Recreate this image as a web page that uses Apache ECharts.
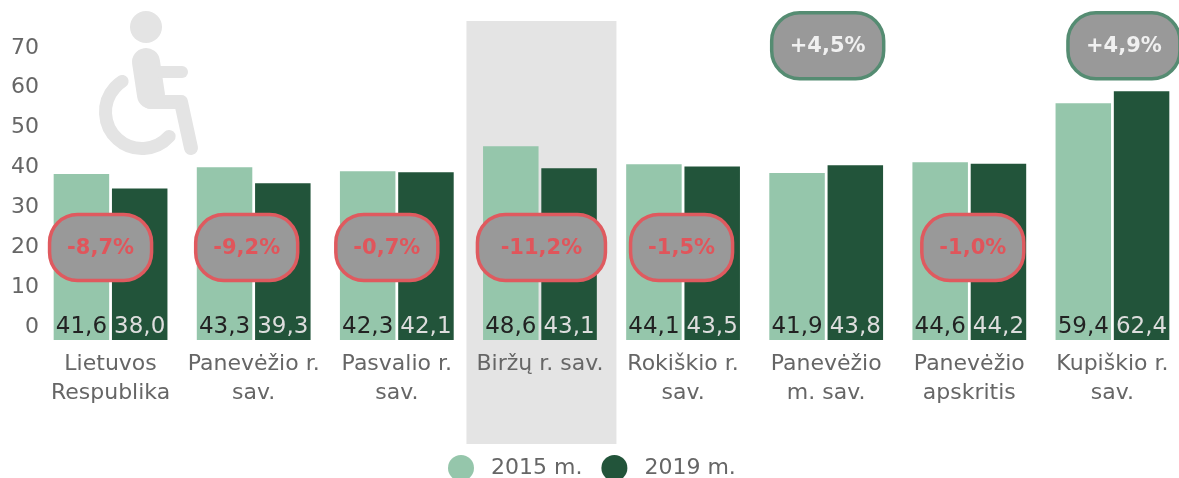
<!DOCTYPE html>
<html>
<head>
<meta charset="utf-8">
<style>html,body{margin:0;padding:0;background:#fff;overflow:hidden}#c{width:1179px;height:478px;filter:blur(0.4px)}</style>
<script src="https://cdn.jsdelivr.net/npm/echarts@6/dist/echarts.min.js"></script>
</head>
<body>
<div id="c"></div>
<script>
const categories = ["Lietuvos\nRespublika","Panevėžio r.\nsav.","Pasvalio r.\nsav.","Biržų r. sav.","Rokiškio r.\nsav.","Panevėžio\nm. sav.","Panevėžio\napskritis","Kupiškio r.\nsav."];
const values2015 = [41.6,43.3,42.3,48.6,44.1,41.9,44.6,59.4];
const values2019 = [38.0,39.3,42.1,43.1,43.5,43.8,44.2,62.4];
const yTicks = [0,10,20,30,40,50,60,70];
const changeCategory = [0,1,2,3,4,5,6,7];
const changeLabels = ["-8,7%","-9,2%","-0,7%","-11,2%","-1,5%","+4,5%","-1,0%","+4,9%"];
const highlightCategory = [3];

// layout of the badges (px relative to the category centre, axis value for height)
const badgeDx = [-10,-7,-10,1.5,-1.5,1.5,3.5,11.5];
const badgeW = [105,105,105,131,105,115,105,115];
const badgeH = 69;
const font = '"DejaVu Sans", sans-serif';
const axisColor = '#666666';

const chart = echarts.init(document.getElementById('c'), null, {renderer:'canvas'});
const iconColor = '#e4e4e4';
chart.setOption({
  animation:false,
  textStyle:{fontFamily:font},
  grid:{left:39,top:21,width:1145,height:319,containLabel:false,outerBoundsMode:'none'},
  legend:{
    left:448,top:455,padding:0,itemWidth:26,itemHeight:26,itemGap:19,icon:'circle',
    data:['2015 m.','2019 m.'],
    textStyle:{fontFamily:font,fontSize:22,color:axisColor,padding:[0,0,0,12]}
  },
  xAxis:{
    type:'category',data:categories,
    axisLine:{show:false},axisTick:{show:false},splitLine:{show:false},
    axisLabel:{interval:0,margin:10,fontFamily:font,fontSize:22,lineHeight:29,color:axisColor,align:'center'}
  },
  yAxis:{
    type:'value',min:0,max:80,interval:10,
    axisLine:{show:false},axisTick:{show:false},splitLine:{show:false},
    axisLabel:{
      margin:0,fontFamily:font,fontSize:22,color:axisColor,verticalAlign:'bottom',lineHeight:26,
      formatter:v=>yTicks.includes(v)?String(v):''
    }
  },
  graphic:[{
    type:'group',z:-1,silent:true,children:[
      {type:'circle',shape:{cx:146,cy:27,r:16},style:{fill:iconColor}},
      {type:'polyline',shape:{points:[[146,62],[151,95]]},style:{stroke:iconColor,lineWidth:28,lineCap:'round',fill:null}},
      {type:'polyline',shape:{points:[[160,72],[182,72]]},style:{stroke:iconColor,lineWidth:12,lineCap:'round',fill:null}},
      {type:'polyline',shape:{points:[[150,102],[181,102],[191,148]]},style:{stroke:iconColor,lineWidth:14,lineCap:'round',lineJoin:'round',fill:null}},
      {type:'arc',shape:{cx:142,cy:112,r:36.5,startAngle:42*Math.PI/180,endAngle:237*Math.PI/180,clockwise:true},style:{stroke:iconColor,lineWidth:13,lineCap:'round',fill:null}}
    ]
  }],
  series:[
    {
      type:'custom',name:'band',z:-1,silent:true,clip:false,
      data:highlightCategory.map(c=>[c,80]),
      encode:{x:0,y:1},
      renderItem:(p,api)=>{
        const top=api.coord([api.value(0),api.value(1)]);
        return {type:'rect',shape:{x:top[0]-73.5,y:top[1],width:150,height:423},style:{fill:'#e4e4e4'}};
      }
    },
    {
      type:'bar',name:'2015 m.',data:values2015,barWidth:55.5,barGap:'5%',
      itemStyle:{color:'#95c6ab'},
      label:{show:true,position:'insideBottom',distance:1,fontFamily:font,fontSize:23,color:'#222222',formatter:p=>p.value.toFixed(1).replace('.',',')}
    },
    {
      type:'bar',name:'2019 m.',data:values2019,barWidth:55.5,barGap:'5%',
      itemStyle:{color:'#22543a'},
      label:{show:true,position:'insideBottom',distance:1,fontFamily:font,fontSize:23,color:'#dddddd',formatter:p=>p.value.toFixed(1).replace('.',',')}
    },
    {
      type:'custom',name:'change',z:10,silent:true,clip:false,
      data:changeCategory.map((c,i)=>[c,changeLabels[i].startsWith('+')?73.8:23.2,i]),
      encode:{x:0,y:1},
      renderItem:(p,api)=>{
        const i=api.value(2);
        const c=api.coord([api.value(0),api.value(1)]);
        const up=changeLabels[i].startsWith('+');
        const w=badgeW[i],cx=c[0]+badgeDx[i];
        return {type:'group',children:[
          {type:'rect',shape:{x:cx-w/2+1.5,y:c[1]-badgeH/2+1.5,width:w-3,height:badgeH-3,r:28},
           style:{fill:'#999999',stroke:up?'#558c72':'#df5a5f',lineWidth:3.5},z2:1},
          {type:'text',style:{x:cx,y:c[1]+1,text:changeLabels[i],align:'center',verticalAlign:'middle',
            font:'bold 21px "DejaVu Sans", sans-serif',fill:up?'#f0f0f0':'#e0555b'},z2:2}
        ]};
      }
    }
  ]
});
</script>
</body>
</html>
